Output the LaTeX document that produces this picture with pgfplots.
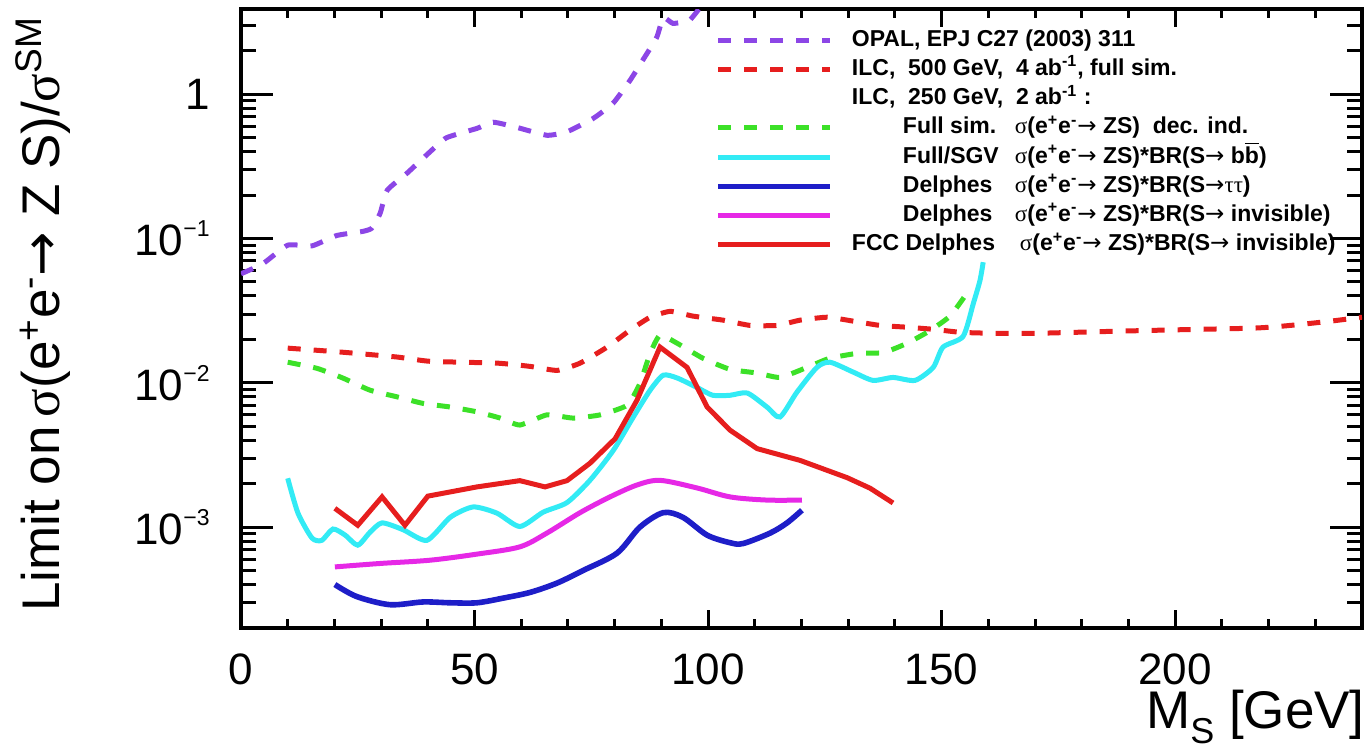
\documentclass[border=0pt]{standalone}
\usepackage{fontspec}
\setmainfont{Liberation Sans}
\newfontfamily\symf{Liberation Serif}
\newfontfamily\arf{DejaVu Sans}
\usepackage{pgfplots}
\pgfplotsset{compat=1.18}
\definecolor{cpur}{RGB}{140,70,230}
\definecolor{cred}{RGB}{230,30,30}
\definecolor{cgrn}{RGB}{60,225,40}
\definecolor{ccyn}{RGB}{50,235,245}
\definecolor{cblu}{RGB}{30,30,200}
\definecolor{cmag}{RGB}{230,40,230}
\newcommand\sg{{\symf\mdseries σ}}
\newcommand\ar{{\arf\mdseries →}}
\newcommand\ee{\sg(e\textsuperscript{+}e\textsuperscript{-}\ar\ ZS)}
\newcommand\tsup[1]{\raisebox{9.5bp}{\fontsize{11.5bp}{12bp}\selectfont #1}}
\begin{document}
\begin{tikzpicture}
\begin{axis}[name=ax, scale only axis, width=560.5bp, height=309.5bp,
  xmin=0, xmax=240, ymode=log, ymin=2e-4, ymax=3.9,
  xtick={0,50,100,150,200}, xticklabels={0,50,100,150,200},
  minor xtick={10,20,30,40,60,70,80,90,110,120,130,140,160,170,180,190,210,220,230},
  ytick={1e-3,1e-2,1e-1,1},
  yticklabels={10\tsup{−3},10\tsup{−2},10\tsup{−1},1},
  minor ytick={3e-4,4e-4,5e-4,6e-4,7e-4,8e-4,9e-4,2e-3,3e-3,4e-3,5e-3,6e-3,7e-3,8e-3,9e-3,0.02,0.03,0.04,0.05,0.06,0.07,0.08,0.09,0.2,0.3,0.4,0.5,0.6,0.7,0.8,0.9,2,3},
  tick align=inside,
  axis line style={line width=1.6bp},
  every tick/.style={black, line width=1.5bp},
  xtick style={/pgfplots/major tick length=9bp,/pgfplots/minor tick length=4.5bp},
  ytick style={/pgfplots/major tick length=16bp,/pgfplots/minor tick length=7.5bp},
  ticklabel style={font=\fontsize{22bp}{26bp}\selectfont},
  xticklabel style={anchor=base, inner sep=0pt, yshift=-28.5bp},
  yticklabel style={anchor=east, inner sep=0pt, xshift=-15.5bp},
  ylabel={Limit on\,\sg(e\textsuperscript{+}e\textsuperscript{-}\ar\ Z S)/\sg\textsuperscript{SM}},
  ylabel style={at={(axis description cs:-0.1615,0.0258)}, anchor=base west, inner sep=0pt, font=\fontsize{26.5bp}{30bp}\selectfont},
  xlabel={M\raisebox{-0.28em}{\fontsize{18bp}{18bp}\selectfont S} [GeV]},
  xlabel style={at={(axis description cs:1,0)}, anchor=base east, yshift=-50.5bp, xshift=1.5bp, inner sep=0pt, font=\fontsize{26.5bp}{30bp}\selectfont},
  legend style={draw=none, fill=none, at={(axis description cs:0.4228,0.9677)}, anchor=north west, inner sep=0pt,
    font=\bfseries\fontsize{11.5bp}{13bp}\selectfont,
    nodes={inner sep=0pt, text height=8.5bp, text depth=2.5bp}, row sep=3.6bp,
    /tikz/every odd column/.append style={column sep=9.5bp}},
  legend cell align=left,
  legend image code/.code={\draw[#1] (0bp,0bp) -- (56bp,0bp);},
]
% OPAL
\addplot[color=cpur, line width=2.5bp, dash pattern=on 6.5bp off 6.5bp, smooth, tension=0.3] coordinates {
(0,0.057)(4.7,0.067)(10,0.09)(15.2,0.089)(20.5,0.105)(26,0.112)(28,0.118)(29.8,0.15)(31.3,0.216)(35.5,0.283)(40.5,0.40)(44,0.50)(50.5,0.58)(54,0.64)(59,0.59)(65.5,0.52)(69.8,0.55)(75.4,0.68)(79.7,0.87)(83.3,1.25)(86,1.72)(89,2.48)(90.4,3.4)(92.5,3.1)(96,3.26)(98.3,4.0)(100,4.8)};
\addlegendentry{OPAL, EPJ C27 (2003) 311}
% ILC 500
\addplot[color=cred, line width=2.5bp, dash pattern=on 6.5bp off 6.5bp, smooth, tension=0.3] coordinates {
(10,0.0174)(21.8,0.0163)(33.4,0.0151)(40.5,0.0141)(54.8,0.0137)(61.9,0.0130)(67.7,0.0122)(72.6,0.0137)(78.4,0.0177)(83.3,0.0232)(87.6,0.0285)(91.9,0.0313)(96.8,0.0290)(103.2,0.0272)(109,0.025)(114.8,0.025)(119.7,0.0272)(125.5,0.0285)(131,0.0268)(136.8,0.025)(142.6,0.0243)(148.2,0.0235)(154,0.0224)(159.7,0.0221)(165.3,0.022)(171.7,0.0221)(187.6,0.0228)(200,0.0233)(216,0.0239)(221,0.0244)(226.8,0.0254)(233,0.0267)(240,0.0285)};
\addlegendentry{ILC,\ \ 500 GeV,\ \ 4 ab\textsuperscript{-1}, full sim.}
\addlegendimage{empty legend}
\addlegendentry{ILC,\ \ 250 GeV,\ \ 2 ab\textsuperscript{-1} :}
% Full sim green
\addplot[color=cgrn, line width=2.5bp, dash pattern=on 6.5bp off 6.5bp, smooth, tension=0.3] coordinates {
(10,0.0139)(16.3,0.0126)(21.8,0.0108)(27.6,0.0089)(33.4,0.0080)(39,0.0072)(44.8,0.0068)(50.5,0.0063)(55.5,0.0057)(59.7,0.0051)(65.5,0.0060)(71.1,0.0057)(76.9,0.0060)(82.7,0.0070)(85.4,0.0099)(87.6,0.016)(89.7,0.0214)(93.4,0.0188)(98.9,0.0148)(104.7,0.0124)(110.5,0.0117)(115.4,0.0109)(121.2,0.0128)(126,0.0148)(131.9,0.016)(137.5,0.0162)(142.6,0.0188)(147.5,0.023)(151.8,0.029)(155,0.040)};
\addlegendentry{\hspace*{25.5bp}\makebox[56bp][l]{Full sim.}\ee\ \ dec. ind.}
% cyan
\addplot[color=ccyn, line width=2.5bp, smooth, tension=0.4] coordinates {
(10,0.00218)(12.2,0.00125)(15.2,0.00084)(17.3,0.00081)(19.7,0.00097)(22.3,0.00088)(25,0.00075)(27.6,0.00092)(30.2,0.00107)(34.7,0.00096)(39.8,0.00081)(44.8,0.00117)(49.7,0.00138)(54.8,0.00125)(59.7,0.00101)(64.7,0.00127)(69.8,0.00148)(74.7,0.00211)(79.7,0.0034)(84,0.0058)(87.6,0.0089)(90.4,0.0113)(93.4,0.0108)(97.6,0.0093)(101,0.0082)(104.7,0.0082)(108.4,0.0085)(112.6,0.0068)(115.4,0.0058)(119,0.0086)(123.3,0.0128)(126.1,0.0139)(131,0.0119)(135.3,0.0104)(139.6,0.0109)(144.3,0.0104)(148.2,0.0128)(150.3,0.0177)(154.6,0.021)(156.8,0.0356)(158.2,0.051)(158.9,0.0686)};
\addlegendentry{\hspace*{25.5bp}\makebox[56bp][l]{Full/SGV}\ee*BR(S\ar\ b$\overline{\hbox{b}}$)}
% blue
\addplot[color=cblu, line width=2.8bp, smooth, tension=0.5] coordinates {
(20.1,0.00040)(24.8,0.00033)(31.9,0.00029)(39,0.000303)(44.8,0.000299)(50.5,0.000299)(56.1,0.000322)(61.9,0.000353)(67.7,0.00041)(73.2,0.0005)(80.5,0.00066)(85.4,0.001)(90.4,0.00126)(94.6,0.00117)(99.8,0.00088)(104.7,0.00078)(107.5,0.00077)(113.3,0.00091)(116.9,0.00107)(120.1,0.00131)};
\addlegendentry{\hspace*{25.5bp}\makebox[56bp][l]{Delphes}\ee*BR(S\ar{\symf\mdseries ττ})}
% magenta
\addplot[color=cmag, line width=2.5bp, smooth, tension=0.5] coordinates {
(20.1,0.00053)(29.8,0.00056)(40.5,0.00059)(50.5,0.00065)(59.7,0.00073)(65.5,0.00091)(72.6,0.00126)(79,0.00162)(84.8,0.00196)(89.7,0.00211)(97.6,0.00187)(104.7,0.00162)(112.6,0.00154)(120.1,0.00154)};
\addlegendentry{\hspace*{25.5bp}\makebox[56bp][l]{Delphes}\ee*BR(S\ar\ invisible)}
% FCC red
\addplot[color=cred, line width=2.5bp] coordinates {
(20.1,0.00135)(25,0.00103)(30.2,0.00162)(35.1,0.00103)(40,0.00164)(50.5,0.0019)(59.7,0.0021)(65.1,0.0019)(69.8,0.0021)(74.7,0.00277)(80.1,0.0041)(84.8,0.0076)(89.7,0.0177)(95.5,0.0128)(99.8,0.0068)(104.7,0.0047)(110.5,0.0035)(119.7,0.0029)(129.8,0.0022)(134.7,0.00186)(139.6,0.00147)};
\addlegendentry{\makebox[84bp][l]{FCC Delphes}\ee*BR(S\ar\ invisible)}
\end{axis}
\pgfresetboundingbox
\path ([xshift=-120.5bp,yshift=-61.5bp]ax.south west) rectangle ([xshift=4bp,yshift=4.5bp]ax.north east);
\end{tikzpicture}
\end{document}
